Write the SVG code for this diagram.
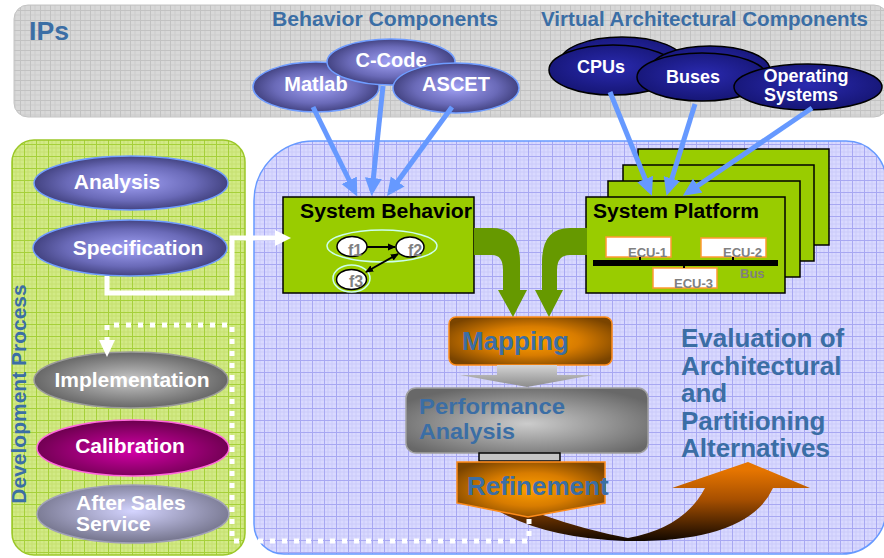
<svg xmlns="http://www.w3.org/2000/svg" width="884" height="558" viewBox="0 0 884 558">
<defs>
<style>
text{font-family:"Liberation Sans",Arial,"DejaVu Sans",sans-serif;font-weight:bold}
.wt{fill:#ffffff}
.bt{fill:#3b6ea5}
.gt{fill:#808080}
.kt{fill:#000000}
.ipn{fill:url(#gNavy);stroke:#6f9cff;stroke-width:1.5}
.vac{fill:url(#gDark);stroke:#000;stroke-width:1.5}
.box{fill:#99cc00;stroke:#000;stroke-width:1.5}
.ecu{fill:#fff;stroke:#ff9933;stroke-width:1.5}
.fn{fill:#fff;stroke:#000;stroke-width:1.5}
.ring{fill:none;stroke:#ccffee;stroke-width:1.5}
.blue{stroke:#6699ff;stroke-width:5;fill:none;marker-end:url(#mBlue)}
.dot{stroke:#fff;stroke-width:5;fill:none;stroke-dasharray:5 7}
</style>
<pattern id="pGray" width="10" height="10" patternUnits="userSpaceOnUse">
<rect width="10" height="10" fill="#d8d8d8"/>
<path d="M0 5H10M5 0V10" stroke="#cdcdcd" stroke-width="1"/>
<path d="M0 0.5H10M0.5 0V10" stroke="#c2c2c2" stroke-width="1"/>
</pattern>
<pattern id="pBlue" width="12" height="12" patternUnits="userSpaceOnUse">
<rect width="12" height="12" fill="#d9d9ff"/>
<path d="M0 4H12M0 8H12M4 0V12M8 0V12" stroke="#cbcbfa" stroke-width="1"/>
<path d="M0 0.5H12M0.5 0V12" stroke="#a8a8f2" stroke-width="1"/>
</pattern>
<pattern id="pGreen" width="12" height="12" patternUnits="userSpaceOnUse">
<rect width="12" height="12" fill="#d2ea86"/>
<path d="M0 4H12M0 8H12M4 0V12M8 0V12" stroke="#c6e070" stroke-width="1"/>
<path d="M0 0.5H12M0.5 0V12" stroke="#a6d03a" stroke-width="1"/>
</pattern>
<radialGradient id="gNavy" cx="50%" cy="50%" r="55%">
<stop offset="0" stop-color="#a0a0f4"/><stop offset="0.6" stop-color="#6a6ab8"/><stop offset="1" stop-color="#383872"/>
</radialGradient>
<radialGradient id="gDark" cx="50%" cy="45%" r="60%">
<stop offset="0" stop-color="#2a2ab0"/><stop offset="1" stop-color="#141470"/>
</radialGradient>
<radialGradient id="gGrayE" cx="50%" cy="50%" r="55%">
<stop offset="0" stop-color="#c8c8c8"/><stop offset="1" stop-color="#5e5e5e"/>
</radialGradient>
<radialGradient id="gMag" cx="50%" cy="55%" r="55%">
<stop offset="0" stop-color="#d400a8"/><stop offset="1" stop-color="#6a004c"/>
</radialGradient>
<radialGradient id="gLav" cx="50%" cy="45%" r="55%">
<stop offset="0" stop-color="#d4d4ff"/><stop offset="1" stop-color="#74748c"/>
</radialGradient>
<radialGradient id="gOrange" cx="50%" cy="50%" r="60%">
<stop offset="0" stop-color="#ffa000"/><stop offset="0.5" stop-color="#d87c00"/><stop offset="1" stop-color="#7a4400"/>
</radialGradient>
<radialGradient id="gPerf" cx="50%" cy="55%" r="60%">
<stop offset="0" stop-color="#cccccc"/><stop offset="1" stop-color="#686868"/>
</radialGradient>
<linearGradient id="gGrayArrow" x1="0" y1="0" x2="0" y2="1">
<stop offset="0" stop-color="#d4d4d4"/><stop offset="1" stop-color="#8c8c8c"/>
</linearGradient>
<linearGradient id="gEval" gradientUnits="userSpaceOnUse" x1="0" y1="470" x2="0" y2="543">
<stop offset="0" stop-color="#e67500"/><stop offset="0.4" stop-color="#a85000"/><stop offset="1" stop-color="#0a0400"/>
</linearGradient>
<marker id="mBlue" markerUnits="userSpaceOnUse" markerWidth="18" markerHeight="18" viewBox="0 0 18 18" refX="13" refY="9" orient="auto">
<path d="M0 0.5L18 9L0 17.5Z" fill="#6699ff"/>
</marker>
<marker id="mBlk" markerUnits="userSpaceOnUse" markerWidth="8" markerHeight="8" viewBox="0 0 8 8" refX="7" refY="4" orient="auto-start-reverse">
<path d="M0 0.5L8 4L0 7.5Z" fill="#000"/>
</marker>
</defs>

<rect width="884" height="558" fill="#ffffff"/>

<!-- Panels -->
<g id="ips-panel">
<rect x="14" y="5" width="874" height="112" rx="14" fill="url(#pGray)" stroke="#c4c4c4" stroke-width="1"/>
<text x="29" y="40" font-size="25" class="bt" textLength="40" lengthAdjust="spacingAndGlyphs">IPs</text>
<text x="272" y="26" font-size="20" class="bt" textLength="226" lengthAdjust="spacingAndGlyphs">Behavior Components</text>
<text x="541" y="26" font-size="20" class="bt" textLength="327" lengthAdjust="spacingAndGlyphs">Virtual Architectural Components</text>
</g>
<g id="dev-panel">
<rect x="12" y="140" width="233" height="415" rx="22" fill="url(#pGreen)" stroke="#9cc828" stroke-width="1.5"/>
<text transform="translate(26 394) rotate(-90)" font-size="21" class="bt" text-anchor="middle">Development Process</text>
</g>
<g id="design-panel">
<path d="M254 201A60 60 0 0 1 314 141L846 141A40 40 0 0 1 886 181L886 510A44 44 0 0 1 842 554L284 554A30 30 0 0 1 254 524Z" fill="url(#pBlue)" stroke="#6699ff" stroke-width="1.5"/>
</g>

<!-- Behavior components -->
<g id="matlab"><ellipse class="ipn" cx="316" cy="87" rx="63" ry="25"/><text x="316" y="91" font-size="20" class="wt" text-anchor="middle">Matlab</text></g>
<g id="ccode"><ellipse class="ipn" cx="391" cy="62" rx="64" ry="23"/><text x="391" y="67" font-size="20" class="wt" text-anchor="middle">C-Code</text></g>
<g id="ascet"><ellipse class="ipn" cx="456" cy="88" rx="63" ry="25"/><text x="456" y="91" font-size="20" class="wt" text-anchor="middle">ASCET</text></g>

<!-- Virtual architectural components -->
<g id="cpus"><ellipse class="vac" cx="622" cy="62" rx="62" ry="25"/><ellipse class="vac" cx="613" cy="70" rx="64" ry="25"/><text x="601" y="73" font-size="18" class="wt" text-anchor="middle">CPUs</text></g>
<g id="buses"><ellipse class="vac" cx="710" cy="70" rx="60" ry="24"/><ellipse class="vac" cx="702" cy="77" rx="65" ry="24"/><text x="693" y="83" font-size="18" class="wt" text-anchor="middle">Buses</text></g>
<g id="os"><ellipse class="vac" cx="808" cy="87" rx="74" ry="23"/><text x="806" y="82" font-size="18" class="wt" text-anchor="middle">Operating</text><text x="801" y="101" font-size="18" class="wt" text-anchor="middle">Systems</text></g>

<!-- Development process -->
<g id="analysis"><ellipse class="ipn" cx="131" cy="183" rx="97" ry="27"/><text x="117" y="189" font-size="21" class="wt" text-anchor="middle">Analysis</text></g>
<g id="specification"><ellipse class="ipn" cx="130" cy="248" rx="97" ry="28"/><text x="138" y="255" font-size="21" class="wt" text-anchor="middle">Specification</text></g>
<g id="implementation"><ellipse cx="131" cy="380" rx="97" ry="28" fill="url(#gGrayE)" stroke="#9a9a9a" stroke-width="1.5"/><text x="132" y="387" font-size="21" class="wt" text-anchor="middle">Implementation</text></g>
<g id="calibration"><ellipse cx="133" cy="448" rx="96" ry="28" fill="url(#gMag)" stroke="#ff66dd" stroke-width="1.5"/><text x="130" y="453" font-size="21" class="wt" text-anchor="middle">Calibration</text></g>
<g id="after-sales"><ellipse cx="133" cy="514" rx="96" ry="29" fill="url(#gLav)" stroke="#a0a0b8" stroke-width="1.5"/><text x="76" y="510" font-size="21" class="wt">After Sales</text><text x="76" y="531" font-size="21" class="wt">Service</text></g>

<!-- Evaluation curved arrow -->
<g id="eval-arrow">
<path d="M486 503Q535 538 625 541Q748 543 773 488L810 488L748 462L672 488L705 488Q684 528 628 538Q585 530 540 514Z" fill="url(#gEval)"/>
</g>

<!-- System platform -->
<g id="system-platform">
<rect class="box" x="638" y="149" width="191" height="96"/>
<rect class="box" x="623" y="165" width="191" height="96"/>
<rect class="box" x="608" y="181" width="192" height="96"/>
<rect class="box" x="586" y="197" width="199" height="96"/>
<text x="593" y="218" font-size="19.5" class="kt" textLength="166" lengthAdjust="spacingAndGlyphs">System Platform</text>
<rect class="ecu" x="606" y="237" width="65" height="20"/>
<rect class="ecu" x="701" y="238" width="65" height="19"/>
<rect class="ecu" x="653" y="268" width="64" height="20"/>
<path d="M640 257V263M733 257V263M684 263V268" stroke="#000" stroke-width="2"/>
<rect x="593" y="260" width="185" height="6" fill="#000"/>
<text x="628" y="257" font-size="13" class="gt">ECU-1</text>
<text x="723" y="257" font-size="13" class="gt">ECU-2</text>
<text x="674" y="288" font-size="13" class="gt">ECU-3</text>
<text x="740" y="278" font-size="13" class="gt">Bus</text>
</g>

<!-- System behavior -->
<g id="system-behavior">
<rect class="box" x="283" y="197" width="191" height="96"/>
<text x="300" y="218" font-size="19.5" class="kt" textLength="172" lengthAdjust="spacingAndGlyphs">System Behavior</text>
<ellipse class="ring" cx="382" cy="246" rx="55" ry="16"/>
<ellipse class="ring" cx="351.5" cy="278.5" rx="18.5" ry="13.5"/>
<ellipse class="fn" cx="352" cy="246.5" rx="15" ry="10"/>
<ellipse class="fn" cx="410" cy="247" rx="14" ry="10"/>
<ellipse class="fn" cx="351.5" cy="279.5" rx="15" ry="10"/>
<path d="M367 247H395" stroke="#000" stroke-width="2" marker-end="url(#mBlk)"/>
<path d="M366 272L398 254" stroke="#000" stroke-width="2" marker-start="url(#mBlk)" marker-end="url(#mBlk)"/>
<text x="348" y="256" font-size="16" class="gt">f1</text>
<text x="408" y="256" font-size="16" class="gt">f2</text>
<text x="349" y="287" font-size="16" class="gt">f3</text>
</g>

<!-- Flow -->
<g id="mapping">
<rect x="449" y="317" width="163" height="48" rx="7" fill="url(#gOrange)" stroke="#ff8c1a" stroke-width="1.5"/>
<text x="462" y="350" font-size="26" class="bt">Mapping</text>
</g>
<g id="performance-analysis">
<rect x="406" y="388" width="242" height="65" rx="10" fill="url(#gPerf)" stroke="#a0a0a0" stroke-width="1.5"/>
<text x="419" y="414" font-size="22" class="bt" textLength="146" lengthAdjust="spacingAndGlyphs">Performance</text>
<text x="419" y="439" font-size="22" class="bt" textLength="96" lengthAdjust="spacingAndGlyphs">Analysis</text>
</g>
<g id="refinement">
<rect x="479" y="453" width="81" height="8" fill="#c4c4c4" stroke="#000" stroke-width="1.5"/>
<path d="M457 462H605V503L528 517L457 503Z" fill="url(#gOrange)" stroke="#ff8c1a" stroke-width="1.5"/>
<text x="467" y="495" font-size="26" class="bt">Refinement</text>
</g>
<g id="evaluation-label">
<text font-size="26" class="bt"><tspan x="681" y="347">Evaluation of</tspan><tspan x="681" y="374.5">Architectural</tspan><tspan x="681" y="402">and</tspan><tspan x="681" y="429.5">Partitioning</tspan><tspan x="681" y="457">Alternatives</tspan></text>
</g>

<!-- Connectors -->
<g id="connectors">
<path class="blue" d="M313 107L355 192"/>
<path class="blue" d="M383 86L372 191"/>
<path class="blue" d="M452 107L390 192"/>
<path class="blue" d="M610 92L650 191"/>
<path class="blue" d="M695 104L668 191"/>
<path class="blue" d="M812 108L687 193"/>
<path d="M107 276V293H232V238H276" stroke="#fff" stroke-width="5" fill="none"/>
<path d="M275 230L291 238L275 246Z" fill="#fff"/>
<path class="dot" d="M529 519V541H232V325H107V340"/>
<path d="M99 340H115L107 357Z" fill="#fff"/>
<path d="M474 228H492Q520 228 520 262V290H527L513 317L498 290H503V270Q503 255 492 255H474Z" fill="#669900"/>
<path d="M587 228H570Q542 228 542 262V290H535L549 317L563 290H557V270Q557 255 570 255H587Z" fill="#669900"/>
<path d="M497 365H557V375H593L527 387L460 375H497Z" fill="url(#gGrayArrow)"/>
</g>
</svg>
